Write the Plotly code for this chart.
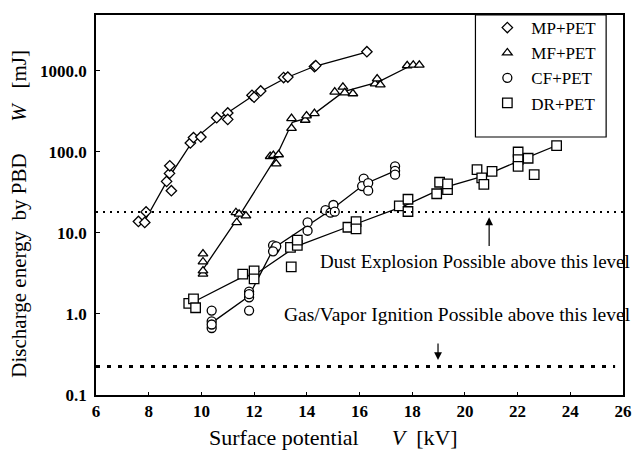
import numpy as np
import plotly.graph_objects as go

# ---- data (V in kV, W in mJ) ----
MP_V = [7.61, 7.85, 7.90, 8.68, 8.79, 8.80, 8.86, 9.58, 9.70, 9.98, 10.58, 11.00, 11.00, 11.92, 12.00, 12.25, 13.12, 13.28, 14.29, 14.34, 16.28]
MP_W = [13.8, 13.4, 18.1, 43, 54, 67, 33, 128, 149, 152, 262, 300, 250, 495, 470, 560, 820, 830, 1120, 1150, 1707]

MF_V = [10.06, 10.06, 10.06, 10.06, 11.31, 11.34, 11.43, 11.69, 12.61, 12.73, 12.84, 12.93, 13.42, 13.42, 13.94, 13.99, 14.29, 15.06, 15.37, 15.44, 15.75, 16.59, 16.67, 16.79, 17.81, 18.04, 18.27]
MF_W = [5.5, 4.4, 3.1, 3.4, 17.8, 13.4, 17.0, 16.2, 87.5, 90, 71, 92, 257, 194, 245, 277, 296, 545, 626, 534, 520, 687, 792, 668, 1150, 1170, 1170]

CF_V = [10.39, 10.39, 10.39, 10.39, 11.81, 11.81, 11.81, 11.81, 12.72, 12.78, 12.84, 12.72, 14.03, 14.03, 14.71, 14.90, 15.01, 15.06, 16.16, 16.10, 16.33, 16.33, 17.35, 17.35, 17.35]
CF_W = [1.10, 0.81, 0.67, 0.74, 1.88, 1.60, 1.10, 1.75, 7.0, 6.3, 6.8, 5.9, 13.4, 10.6, 19, 17.7, 22, 18.2, 46.6, 37.7, 41, 33, 66, 58, 52]

DR_V = [9.52, 9.70, 9.78, 11.57, 12.0, 12.0, 13.41, 13.38, 13.64, 13.64, 15.56, 15.87, 15.87, 17.51, 17.84, 17.84, 18.93, 19.04, 19.34, 19.34, 20.46, 20.64, 20.72, 21.03, 22.02, 22.02, 22.02, 22.4, 22.63, 23.48]
DR_W = [1.35, 1.53, 1.19, 3.1, 3.4, 2.7, 3.8, 6.6, 7.0, 8.1, 11.7, 13.7, 11.2, 21.5, 25.9, 18.3, 30.3, 42, 34, 40, 60, 47.6, 39.5, 57, 99, 79.6, 66, 83, 52, 119]

# fitted trend lines
MP_FIT_V = [7.9, 8.8, 9.7, 10.7, 12.0, 13.2, 14.3, 16.3]
MP_FIT_W = [15, 50, 140, 260, 500, 810, 1130, 1700]
MF_FIT_V = [10.1, 11.4, 12.8, 13.45, 14.1, 15.4, 16.7, 17.9]
MF_FIT_W = [3.7, 15.5, 82, 230, 265, 550, 720, 1130]
CF_FIT_V = [10.4, 11.8, 12.75, 14.0, 14.9, 16.2, 17.35]
CF_FIT_W = [0.78, 1.65, 6.5, 12, 19, 40, 58]
DR_FIT_V = [9.7, 11.6, 12.0, 13.6, 15.7, 17.7, 19.2, 20.7, 22.1, 23.5]
DR_FIT_W = [1.4, 2.9, 3.0, 6.8, 12.3, 21.5, 36, 50, 78, 120]

SERIES = ["MP+PET", "MF+PET", "CF+PET", "DR+PET"]
DUST_LEVEL = 18.0
GAS_LEVEL = 0.225
X_TICKS = [6, 8, 10, 12, 14, 16, 18, 20, 22, 24, 26]
Y_TICKS = [0.1, 1, 10, 100, 1000]
Y_TICKTEXT = ["0.1", "1.0", "10.0", "100.0", "1000.0"]

FONT = "Liberation Serif"

fig = go.Figure()

data = [
    (MP_V, MP_W, MP_FIT_V, MP_FIT_W, "diamond", 8),
    (MF_V, MF_W, MF_FIT_V, MF_FIT_W, "triangle-up", 8.5),
    (CF_V, CF_W, CF_FIT_V, CF_FIT_W, "circle", 9),
    (DR_V, DR_W, DR_FIT_V, DR_FIT_W, "square", 9.5),
]

for (v, w, fv, fw, sym, sz), name in zip(data, SERIES):
    fig.add_trace(go.Scatter(x=fv, y=fw, mode="lines", showlegend=False,
                             line=dict(color="black", width=1.3), hoverinfo="skip"))
for (v, w, fv, fw, sym, sz), name in zip(data, SERIES):
    fig.add_trace(go.Scatter(x=v, y=w, mode="markers", name=name,
                             marker=dict(symbol=sym, size=sz, color="white",
                                         line=dict(color="black", width=1.3))))

# legend frame
fig.add_shape(type="rect", xref="paper", yref="paper", x0=0.720, x1=0.968, y0=0.679, y1=1.0,
              line=dict(color="black", width=1.2), fillcolor="white", layer="below")

# threshold lines
fig.add_shape(type="line", xref="x", yref="y", x0=6, x1=26, y0=DUST_LEVEL, y1=DUST_LEVEL,
              line=dict(color="black", width=2, dash="2px,5px"))
fig.add_shape(type="line", xref="x", yref="y", x0=6, x1=25.7, y0=GAS_LEVEL, y1=GAS_LEVEL,
              line=dict(color="black", width=3, dash="4px,7px"))

annotations = [
    dict(x=1.017, y=np.log10(4.4), xref="paper", yref="y", xanchor="right", yanchor="middle",
         text="Dust Explosion Possible above this level", showarrow=False,
         font=dict(family=FONT, size=19, color="black")),
    dict(x=1.019, y=np.log10(0.975), xref="paper", yref="y", xanchor="right", yanchor="middle",
         text="Gas/Vapor Ignition Possible above this level", showarrow=False,
         font=dict(family=FONT, size=19.5, color="black")),
    dict(x=20.92, y=np.log10(15.5), ax=20.92, ay=np.log10(6.6), xref="x", yref="y",
         axref="x", ayref="y", text="", showarrow=True, arrowhead=2, arrowsize=1.3,
         arrowwidth=1.2, arrowcolor="black"),
    dict(x=18.98, y=np.log10(0.27), ax=18.98, ay=np.log10(0.45), xref="x", yref="y",
         axref="x", ayref="y", text="", showarrow=True, arrowhead=2, arrowsize=1.3,
         arrowwidth=1.2, arrowcolor="black"),
    dict(x=0.451, y=-0.112, xref="paper", yref="paper", xanchor="center", yanchor="middle",
         text="Surface potential" + "&nbsp;" * 6 + "<i>V</i>&nbsp;&nbsp;[kV]", showarrow=False,
         font=dict(family=FONT, size=22, color="black")),
    dict(x=-0.1455, y=0.478, xref="paper", yref="paper", xanchor="center", yanchor="middle",
         textangle=-90,
         text="Discharge energy&nbsp;&nbsp;by PBD" + "&nbsp;" * 6 + "<i>W</i>&nbsp;&nbsp;&nbsp;[mJ]",
         showarrow=False, font=dict(family=FONT, size=21, color="black")),
]

fig.update_layout(
    width=642, height=452,
    margin=dict(l=96, r=10, t=12, b=57),
    paper_bgcolor="white", plot_bgcolor="white",
    font=dict(family=FONT, color="black"),
    annotations=annotations,
    legend=dict(x=0.735, y=1.013, xanchor="left", yanchor="top", itemwidth=38,
                bgcolor="rgba(0,0,0,0)", borderwidth=0,
                font=dict(family=FONT, size=17, color="black")),
    xaxis=dict(range=[6, 26], tickvals=X_TICKS, showgrid=False, zeroline=False,
               showline=True, mirror=True, linecolor="black", linewidth=1.5,
               ticks="inside", ticklen=3, tickcolor="black",
               tickfont=dict(family=FONT, size=17, color="black", weight="bold")),
    yaxis=dict(type="log", range=[-1, 3.685], tickvals=Y_TICKS, ticktext=Y_TICKTEXT,
               showgrid=False, zeroline=False, showline=True, mirror=True,
               linecolor="black", linewidth=1.5, ticks="inside", ticklen=4, tickcolor="black",
               ticklabelstandoff=4,
               tickfont=dict(family=FONT, size=17, color="black", weight="bold")),
)

fig.write_html("out.html")
